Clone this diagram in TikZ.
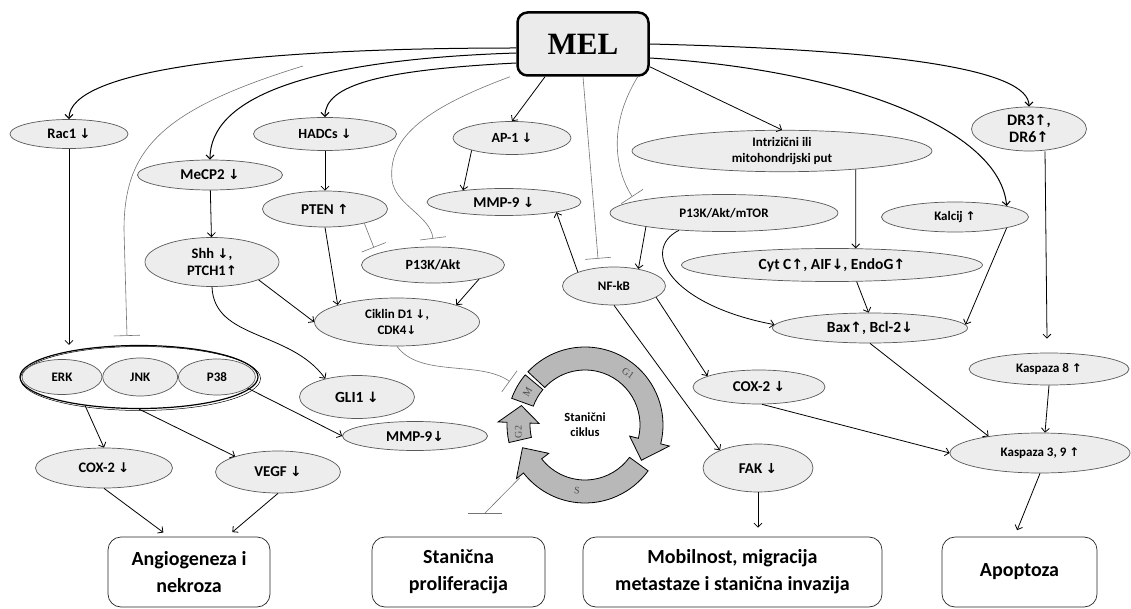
\documentclass[tikz,border=0pt]{standalone}
\usepackage{fontspec}
\setmainfont{Carlito}
\newfontfamily\melfamily{Liberation Serif}
\newfontfamily\arrowfamily[Scale=0.92]{DejaVu Sans}
\usetikzlibrary{arrows.meta, positioning, shapes.geometric}
\newcommand{\arUp}{{\arrowfamily\bfseries ↑}}
\newcommand{\arDn}{{\arrowfamily\bfseries ↓}}
\newcommand{\molfont}{\bfseries\fontsize{13}{16}\selectfont}
\newcommand{\outfont}{\bfseries\fontsize{20}{27}\selectfont}
\newcommand{\cyclearrow}[3]{%
\filldraw[phasebox] (#1:78) arc[start angle=#1, end angle=#2, radius=78]
 -- (#2:87) -- (#3:66.5) -- (#2:46) -- (#2:55)
 arc[start angle=#2, end angle=#1, radius=55] -- cycle;}

\begin{document}
\begin{tikzpicture}[x=1pt, y=-1pt,
  mol/.style={ellipse, draw=black!65, fill=black!7, line width=0.7pt, inner sep=1pt, align=center, font=\molfont},
  dims/.style 2 args={minimum width=#1pt, minimum height=#2pt},
  fs/.style={font={\bfseries\fontsize{#1}{17}\selectfont}},
  outcome/.style={draw=black!85, line width=0.7pt, rounded corners=13pt, minimum height=70pt, align=center, font=\outfont},
  act/.style={-{Straight Barb[length=4pt,width=8pt]}, line width=0.8pt},
  melarc/.style={act, line width=1pt},
  inhib/.style={-{Bar[width=26pt]}, draw=black!55, line width=0.6pt},
  thinline/.style={draw=black!55, line width=0.6pt},
  phasebox/.style={draw=black, line width=0.8pt, fill=black!28},
  phaselabel/.style={font=\melfamily\fontsize{10}{10}\selectfont, text=black!70, inner sep=0pt}]
\useasboundingbox (0,0) rectangle (1131,609);

\node[draw, line width=2.5pt, rounded corners=10pt, fill=black!8, minimum width=131pt, minimum height=63pt,
  font=\melfamily\bfseries\fontsize{31}{31}\selectfont] (mel) at (583,44) {MEL};

\node[mol, dims={118}{29}, fs=14.5] (rac) at (69,134) {Rac1 \arDn};
\node[mol, dims={145}{30}, fs=15] (mecp) at (210,175) {MeCP2 \arDn};
\node[mol, dims={143}{33}, fs=14] (hadc) at (325,134) {HADCs \arDn};
\node[mol, dims={125}{36}, fs=15] (pten) at (325,209) {PTEN \arUp};
\node[mol, dims={134}{49}, fs=14.5] (shh) at (212,262) {Shh \arDn,\\PTCH1\arUp};
\node[mol, dims={143}{36}, fs=14] (pik) at (433,265) {P13K/Akt};
\node[mol, dims={165}{48}] (cik) at (397,322) {Ciklin D1 \arDn,\\CDK4\arDn};
\node[mol, dims={115}{43}, fs=15.5] (gli) at (357,397) {GLI1 \arDn};
\node[mol, dims={118}{33}, fs=14] (ap) at (512,138) {AP-1 \arDn};
\node[mol, dims={154}{27}, fs=15] (mmpa) at (504,202) {MMP-9 \arDn};
\node[mol, dims={300}{41}] (intr) at (782,151) {Intrizični ili\\mitohondrijski put};
\node[mol, dims={228}{37}] (pikm) at (724,213) {P13K/Akt/mTOR};
\node[mol, dims={103}{38}] (nfkb) at (614,286) {NF-kB};
\node[mol, dims={147}{30}] (kal) at (955,217) {Kalcij \arUp};
\node[mol, dims={115}{44}, fs=16] (dr) at (1029,129) {DR3\arUp,\\DR6\arUp};
\node[mol, dims={301}{33}, fs=15.5] (cyt) at (832,265) {Cyt C\arUp, AIF\arDn, EndoG\arUp};
\node[mol, dims={195}{30}, fs=15.5] (bax) at (870,328) {Bax\arUp, Bcl-2\arDn};
\node[mol, dims={132}{34}, fs=15] (coxb) at (759,387) {COX-2 \arDn};
\node[mol, dims={160}{32}] (kasa) at (1049,369) {Kaspaza 8 \arUp};
\node[mol, dims={180}{40}] (kasb) at (1040,453) {Kaspaza 3, 9 \arUp};
\node[mol, dims={110}{48}, fs=15] (fak) at (758,468) {FAK \arDn};
\node[mol, dims={137}{40}, fs=14.5] (coxa) at (104,468) {COX-2 \arDn};
\node[mol, dims={125}{42}, fs=15] (vegf) at (278,472) {VEGF \arDn};
\node[mol, dims={145}{29}, fs=15] (mmpb) at (415,436) {MMP-9\arDn};

\node[ellipse, draw, line width=1.2pt, fill=white, dims={238}{63}] (mapk) at (139,377) {};
\draw[line width=0.5pt] ([xshift=1.5pt,yshift=-1.5pt]mapk.center) ellipse [x radius=120, y radius=32];
\node[mol, dims={80}{35}] (erk) at (62,377) {ERK};
\node[mol, dims={75}{38}, right=0pt of erk] (jnk) {JNK};
\node[mol, dims={77}{36}, right=0pt of jnk] (p38) {P38};

\node[outcome, minimum width=162pt] (angio) at (189,572) {Angiogeneza i\\nekroza};
\node[outcome, minimum width=173pt] (prolif) at (458.5,572) {Stanična\\proliferacija};
\node[outcome, minimum width=299pt] (mob) at (732.5,572) {Mobilnost, migracija\\metastaze i stanična invazija};
\node[outcome, minimum width=155pt] (apo) at (1019.5,572) {Apoptoza};

% stanicni ciklus
\begin{scope}[shift={(585,425)}, yscale=-1]
  \cyclearrow{137}{-14}{-32}
  \cyclearrow{-36}{-142}{-160}
  \cyclearrow{193}{178}{163}
  \filldraw[phasebox] (160:78) arc[start angle=160, end angle=140, radius=78]
    -- (140:55) arc[start angle=140, end angle=160, radius=55] -- cycle;
  \node[phaselabel, rotate=-36] (g1) at (50:67) {G1};
  \node[phaselabel, rotate=-7] (sph) at (-97:66) {S};
  \node[phaselabel, rotate=90] (g2) at (186:67) {G2};
  \node[phaselabel, rotate=60] (mph) at (150:66.5) {M};
  \node[font=\bfseries\fontsize{12.5}{15}\selectfont, align=center] (cyctxt) at (0,0) {Stanični\\ciklus};
  \coordinate (m-out) at (150:87);
  \coordinate (cyc-s) at (-141:84);
\end{scope}
\coordinate (prolif-bar) at (485,513);
\coordinate (mapkin) at (303,66);

% iz MEL
\draw[melarc] ([yshift=-4]mel.west) .. controls (250,48) and (69,70) .. (rac.north);
\draw[melarc] ([yshift=-9]mel.west) .. controls (300,60) and (210,100) .. (mecp.north);
\draw[melarc] ([yshift=-19]mel.west) .. controls (380,70) and (325,85) .. (hadc.north);
\draw[inhib] (mapkin) .. controls (160,110) and (124,150) .. (124,230) -- ([xshift=-12,yshift=9]mapk.north);
\draw[act] ([xshift=-38]mel.south) -- (ap.north);
\draw[inhib] ([xshift=-73]mel.south) .. controls (420,110) and (388,140) .. (392,180)
  .. controls (395,205) and (430,215) .. ([yshift=8]pik.north);
\draw[inhib] (mel.south) -- ([xshift=-16,yshift=8]nfkb.north);
\draw[inhib] ([xshift=-12]mel.south east) .. controls (605,130) and (618,175) .. ([yshift=5]pikm.173);
\draw[act] ([yshift=10]mel.south east) -- (intr.north);
\draw[melarc] ([yshift=-14]mel.east) .. controls (850,70) and (1000,130) .. (kal.12);
\draw[melarc] (mel.east) .. controls (900,50) and (1029,70) .. (dr.north);

% lijevo
\draw[act] (rac.south) -- (rac.south |- mapk.north);
\draw[act] (mecp) -- (shh);
\draw[act] (hadc) -- (pten);
\draw[act] (pten.south) -- (cik.164);
\draw[inhib] (pten.-20) -- ([yshift=7]pik.170);
\draw[act] (shh.-21) -- (cik.180);
\draw[act] (shh.south) .. controls (214,340) and (290,330) .. (gli.150);
\draw[act] (pik.-17) -- (cik.16);
\draw[act] (mapk.208) -- (coxa.north);
\draw[act] (mapk.south) -- (vegf.160);
\draw[act] (p38.-20) -- (mmpb.west);
\draw[act, shorten >=7pt] (coxa.south) -- ([xshift=-20]angio.north);
\draw[act, shorten >=7pt] (vegf.south) -- ([xshift=38]angio.north);

% sredina
\draw[act] (ap.197) -- (mmpa.164);
\draw[act] (nfkb.159) -- (mmpa.-11);
\draw[act] (pikm.190) -- (nfkb.35);
\draw[act] (nfkb.-15) -- (coxb.168);
\draw[act] (nfkb.south) -- (fak.155);
\draw[act, shorten >=9pt] (fak.south) -- (fak.south |- mob.north);
\draw[inhib] (cik.south) .. controls (420,378) and (480,360) .. (m-out);
\draw[thinline] (cyc-s) -- (prolif-bar);
\draw[thinline] ([xshift=-17]prolif-bar) -- ([xshift=17]prolif-bar);

% desno
\draw[act] (pikm.-159) .. controls (640,250) and (670,305) .. (bax.178);
\draw[act] (intr.-14) -- (cyt.35);
\draw[act] (cyt.-34) -- (bax.95);
\draw[act] (kal.-12) -- (bax.2);
\draw[act] ([xshift=16]dr.south) -- ([xshift=-2,yshift=14]kasa.north);
\draw[act] (bax.south) -- (kasb.162);
\draw[act] (coxb.-80) -- (kasb.west);
\draw[act] (kasa.south) -- ([xshift=5]kasb.north);
\draw[act, shorten >=7pt] (kasb.south) -- ([xshift=-5]apo.north);
\end{tikzpicture}
\end{document}
